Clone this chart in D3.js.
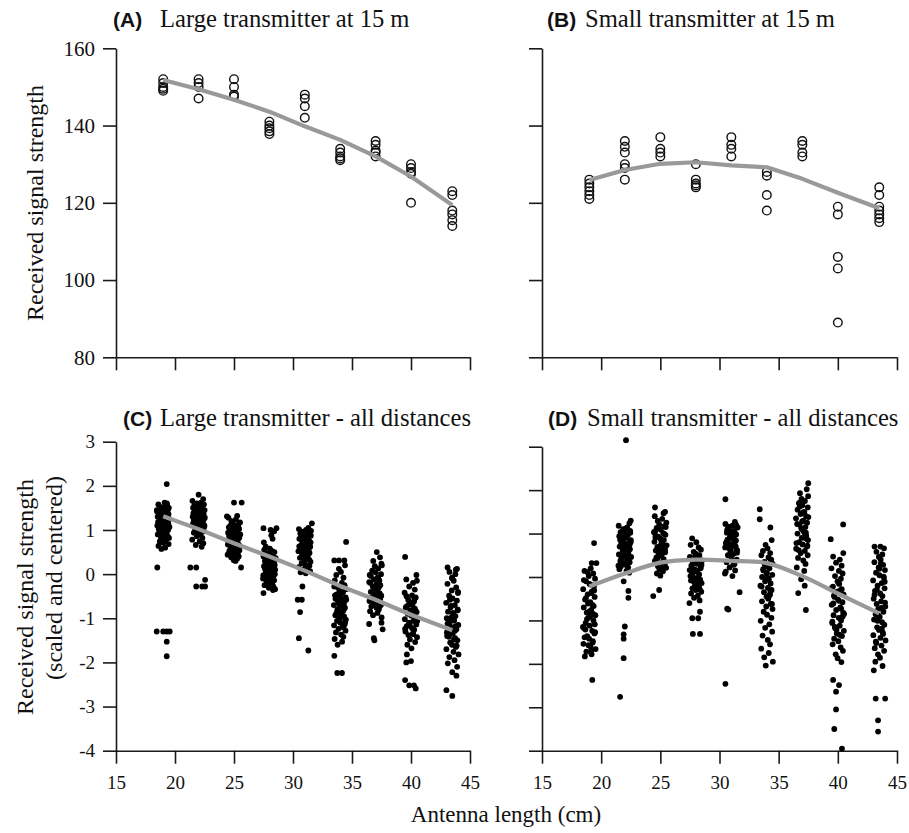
<!DOCTYPE html>
<html><head><meta charset="utf-8">
<script src="https://cdn.jsdelivr.net/npm/d3@7"></script>
<style>
body{margin:0;background:#fff}
svg text{font-family:"Liberation Serif","DejaVu Serif","Noto Serif",serif;}
svg text .tag{font-family:"Liberation Sans","DejaVu Sans",Arial,sans-serif;font-weight:bold;}
</style>
</head><body>
<svg id="chart" width="909" height="833"></svg>
<script>
// ---------- DATA ----------
const antennaGroups = [19, 22, 25, 28, 31, 34, 37, 40, 43.5];
const xTickValues = [15, 20, 25, 30, 35, 40, 45];
const yTicksRaw = [80, 100, 120, 140, 160];
const yTicksScaled = [-4, -3, -2, -1, 0, 1, 2, 3];

// (A) Large transmitter at 15 m
const largeAt15 = [
  [152, 151, 150, 149.5, 149],
  [152, 151, 150, 147],
  [152, 150, 148, 147.5],
  [141, 140, 139.3, 138.5, 137.8],
  [148, 147, 145, 142],
  [134, 133, 132, 131.5, 131],
  [136, 135, 133.5, 133, 132],
  [130, 129, 128, 127.5, 120],
  [123, 122, 118, 117, 115.5, 114]
];
const largeAt15Fit = [151.8, 149.4, 146.7, 143.6, 139.8, 136.3, 132, 126.8, 119.4];

// (B) Small transmitter at 15 m
const smallAt15 = [
  [126, 125, 124, 123, 122, 121],
  [136, 134.5, 133, 130, 129, 126],
  [137, 134, 133, 132],
  [130, 126, 125, 124.5, 124],
  [137, 135, 134, 132],
  [128, 127, 122, 118],
  [136, 135, 133, 132],
  [119, 117, 106, 103, 89],
  [124, 122, 119, 118, 117, 116, 115]
];
const smallAt15Fit = [125.9, 128.5, 130.1, 130.5, 129.7, 129.2, 126.2, 122.6, 118.6];

// (C) Large transmitter - all distances (scaled), one string per antenna group
const largeAllCore = [
  "1.62 1.58 1.55 1.52 1.50 1.48 1.46 1.44 1.42 1.40 1.38 1.36 1.35 1.33 1.31 1.30 1.28 1.27 1.25 1.24 1.22 1.21 1.20 1.18 1.17 1.15 1.14 1.12 1.11 1.10 1.08 1.07 1.05 1.04 1.02 1.00 0.98 0.96 0.94 0.92 0.90 0.88 0.86 0.84 0.82 0.80 0.77 0.74 0.71 0.68 0.64 0.60 0.57 1.60 1.45 1.25 1.13 0.95 0.85 1.39",
  "1.70 1.66 1.62 1.60 1.58 1.56 1.54 1.52 1.50 1.48 1.47 1.45 1.44 1.42 1.41 1.40 1.38 1.37 1.36 1.34 1.33 1.32 1.30 1.29 1.28 1.26 1.25 1.24 1.22 1.21 1.20 1.18 1.17 1.15 1.14 1.12 1.10 1.08 1.06 1.04 1.02 1.00 0.97 0.94 0.90 0.86 0.82 0.78 0.74 0.70 0.66 0.62 1.35 1.27 1.19 1.43 1.50 1.11 0.95 1.31",
  "1.32 1.28 1.24 1.20 1.17 1.14 1.12 1.10 1.08 1.06 1.04 1.02 1.00 0.98 0.96 0.94 0.92 0.90 0.88 0.86 0.84 0.82 0.80 0.78 0.76 0.74 0.72 0.70 0.68 0.66 0.64 0.62 0.60 0.58 0.56 0.54 0.52 0.50 0.48 0.46 0.44 0.42 0.40 0.38 0.35 0.32 0.30 0.87 0.79 0.71 0.63 0.55 0.95 1.05 0.67 0.59 0.47 0.83 0.75",
  "0.62 0.58 0.55 0.52 0.50 0.47 0.45 0.42 0.40 0.38 0.36 0.34 0.32 0.30 0.28 0.26 0.24 0.22 0.20 0.18 0.16 0.14 0.12 0.10 0.08 0.06 0.04 0.02 0.00 -0.02 -0.04 -0.06 -0.08 -0.10 -0.12 -0.14 -0.16 -0.18 -0.20 -0.22 -0.25 -0.28 -0.31 -0.34 0.27 0.17 0.07 -0.03 0.33 0.43 0.21 0.11 -0.13 0.80 0.72 0.88",
  "1.05 1.02 1.00 0.98 0.96 0.94 0.92 0.90 0.88 0.86 0.84 0.82 0.80 0.78 0.76 0.74 0.72 0.70 0.68 0.66 0.64 0.62 0.60 0.58 0.56 0.54 0.52 0.50 0.48 0.46 0.44 0.42 0.40 0.37 0.34 0.31 0.28 0.25 0.22 0.19 0.16 0.13 0.10 0.07 0.04 0.02 0.71 0.63 0.55 0.79 0.87 0.47 0.33 0.59",
  "0.20 0.12 0.05 -0.02 -0.08 -0.14 -0.20 -0.25 -0.30 -0.34 -0.38 -0.42 -0.46 -0.50 -0.53 -0.56 -0.60 -0.63 -0.66 -0.70 -0.73 -0.76 -0.80 -0.83 -0.86 -0.90 -0.93 -0.96 -1.00 -1.03 -1.06 -1.10 -1.13 -1.16 -1.20 -1.24 -1.28 -1.32 -1.37 -1.42 -1.47 -1.53 -1.60 -0.58 -0.68 -0.78 -0.88 -0.98 -0.48 -0.40 -1.08 -0.62 -0.72 -1.18 -0.28",
  "0.38 0.30 0.24 0.18 0.13 0.08 0.04 0.00 -0.04 -0.08 -0.12 -0.15 -0.18 -0.22 -0.25 -0.28 -0.31 -0.34 -0.37 -0.40 -0.43 -0.46 -0.49 -0.52 -0.55 -0.58 -0.61 -0.64 -0.67 -0.70 -0.73 -0.76 -0.80 -0.84 -0.88 -0.93 -0.98 -0.35 -0.45 -0.55 -0.65 -0.20 -0.10 -0.50 -0.60 -0.30 -0.75 -0.02 -0.40 0.20",
  "-0.02 -0.12 -0.20 -0.28 -0.35 -0.42 -0.48 -0.53 -0.58 -0.62 -0.66 -0.70 -0.74 -0.78 -0.82 -0.86 -0.90 -0.94 -0.98 -1.02 -1.06 -1.10 -1.14 -1.18 -1.22 -1.26 -1.30 -1.34 -1.38 -1.43 -1.48 -1.54 -1.60 -1.68 -0.76 -0.88 -1.00 -1.12 -0.64 -0.55 -1.24 -0.94 -1.06 -0.70 -1.36 -0.50 -0.84 -1.16",
  "0.12 0.05 0.00 -0.08 -0.15 -0.22 -0.30 -0.37 -0.43 -0.49 -0.55 -0.60 -0.65 -0.70 -0.75 -0.80 -0.85 -0.90 -0.95 -1.00 -1.05 -1.10 -1.15 -1.20 -1.25 -1.30 -1.35 -1.40 -1.45 -1.50 -1.55 -1.60 -1.65 -1.70 -1.76 -1.82 -1.88 -1.95 -2.02 -2.10 -0.72 -0.88 -1.02 -1.18 -1.32 -1.48 -1.62 -0.58 -0.40 -0.98 -1.28 -1.42 -0.10 -0.82 -1.12"
];
// isolated readings: [offset from group length (cm), value]
const largeAllOutliers = [
  [[-0.5, 0.15], [-0.55, -1.30], [0.0, -1.30], [0.3, -1.30], [0.55, -1.30], [0.3, -1.53], [0.3, -1.86], [0.3, 2.04]],
  [[0.0, 1.80], [-0.7, 0.15], [-0.2, 0.15], [-0.2, -0.28], [0.3, -0.28], [0.55, -0.28], [0.55, -0.13]],
  [[0.0, 1.62], [0.65, 1.62], [-0.6, 1.31], [0.6, 0.15]],
  [[-0.5, 1.04], [0.1, 1.0], [0.6, 1.04], [0.4, 0.97], [-0.5, -0.43], [0.3, -0.36]],
  [[0.6, 1.15], [-0.2, -0.28], [-0.6, -0.58], [-0.25, -0.58], [-0.4, -0.86], [-0.5, -1.45], [0.3, -1.73]],
  [[0.5, 0.73], [-0.5, 0.31], [-0.1, 0.31], [0.35, 0.31], [-0.5, -1.85], [-0.25, -2.24], [0.15, -2.24]],
  [[0.1, 0.50], [-0.55, -1.13], [-0.15, -1.45], [-0.1, -1.50], [0.6, -1.25], [0.5, -1.10]],
  [[-0.5, 0.39], [0.5, -0.15], [-0.35, -1.82], [0.0, -1.97], [-0.4, -2.0], [-0.5, -2.40], [-0.15, -2.52], [0.25, -2.52], [0.4, -2.59]],
  [[-0.4, 0.15], [0.3, 0.10], [0.0, -2.22], [0.35, -2.30], [-0.5, -2.63], [0.0, -2.76]]
];
const largeAllFit = [1.31, 1.02, 0.70, 0.40, 0.08, -0.27, -0.58, -0.92, -1.27];

// (D) Small transmitter - all distances (scaled)
const smallAllCore = [
  "0.20 0.14 0.08 0.02 -0.04 -0.10 -0.16 -0.22 -0.28 -0.34 -0.40 -0.46 -0.52 -0.58 -0.64 -0.70 -0.76 -0.82 -0.88 -0.94 -1.00 -1.06 -1.12 -1.18 -1.24 -1.30 -1.36 -1.42 -1.48 -1.54 -1.60 -1.66 -1.72 -1.78 -1.83 -0.31 -0.61 -0.91 -1.21 -1.51 -0.07 -0.37 -0.67 -0.97 -1.27 -1.57 -0.19 -0.49 -0.79 -1.09 -1.39 -1.69 0.11 -0.85 -1.15",
  "1.24 1.18 1.14 1.10 1.06 1.03 1.00 0.97 0.94 0.91 0.88 0.85 0.82 0.79 0.76 0.73 0.70 0.67 0.64 0.61 0.58 0.55 0.52 0.49 0.46 0.43 0.40 0.37 0.34 0.31 0.28 0.25 0.22 0.18 0.14 0.10 0.92 0.80 0.68 0.56 0.44 0.32 1.02 0.86 0.62 0.50 0.38 0.26 1.12 0.74",
  "1.47 1.40 1.34 1.29 1.25 1.21 1.17 1.13 1.09 1.05 1.01 0.97 0.93 0.89 0.85 0.81 0.77 0.73 0.69 0.65 0.61 0.57 0.53 0.49 0.45 0.41 0.37 0.33 0.29 0.25 0.21 0.17 0.13 0.08 0.03 1.15 0.95 0.75 0.55 0.35 1.03 0.83 0.63 0.43 0.23 0.71 0.51 0.91 0.99 0.59",
  "0.89 0.80 0.74 0.68 0.63 0.58 0.54 0.50 0.46 0.42 0.38 0.34 0.30 0.26 0.22 0.18 0.14 0.10 0.06 0.02 -0.02 -0.06 -0.10 -0.14 -0.18 -0.22 -0.26 -0.30 -0.34 -0.38 -0.43 -0.48 -0.54 -0.60 0.40 0.20 0.00 -0.20 0.32 0.12 -0.08 -0.28 0.48 0.28 0.08 -0.12 0.36 0.16 -0.04",
  "1.27 1.22 1.18 1.14 1.10 1.06 1.02 0.98 0.94 0.90 0.86 0.82 0.78 0.74 0.70 0.66 0.62 0.58 0.54 0.50 0.45 0.40 0.34 0.28 0.22 0.15 0.08 0.02 1.20 1.12 1.04 0.96 0.88 0.80 0.72 0.64 0.56 1.16 1.00 0.84 0.68 0.92 0.76 0.60 1.08 0.52 0.30 0.12",
  "0.85 0.74 0.66 0.60 0.55 0.50 0.45 0.40 0.35 0.30 0.25 0.20 0.15 0.10 0.05 0.00 -0.05 -0.10 -0.15 -0.20 -0.25 -0.30 -0.35 -0.40 -0.45 -0.50 -0.56 -0.62 -0.68 -0.74 -0.80 -0.87 -0.94 -1.01 -1.09 -1.17 -1.26 -1.35 -1.45 -1.55 -1.65 -1.75 -1.85 -1.95 -2.04 0.38 0.18 -0.02 -0.22 -0.42 -0.62 0.28 0.08 -0.32",
  "2.02 1.93 1.86 1.80 1.75 1.70 1.65 1.60 1.55 1.50 1.45 1.40 1.35 1.30 1.25 1.20 1.15 1.10 1.05 1.00 0.95 0.90 0.85 0.80 0.75 0.70 0.65 0.60 0.55 0.50 0.44 0.38 0.30 0.22 0.14 1.62 1.38 1.12 0.88 0.62 1.48 1.22 0.98 0.72 1.72 1.28 1.02 0.78",
  "0.55 0.47 0.40 0.33 0.26 0.20 0.14 0.08 0.02 -0.04 -0.10 -0.16 -0.22 -0.28 -0.34 -0.40 -0.46 -0.52 -0.58 -0.64 -0.70 -0.76 -0.82 -0.88 -0.94 -1.00 -1.06 -1.12 -1.18 -1.24 -1.30 -1.36 -1.42 -1.48 -1.55 -1.62 -1.70 -1.78 -1.87 -1.96 -0.25 -0.55 -0.85 -1.15 -0.31 -0.61 -0.91 -1.21 -0.13 -0.43 -0.73 -1.03 -1.33",
  "0.66 0.58 0.52 0.46 0.40 0.34 0.28 0.22 0.16 0.10 0.04 -0.02 -0.08 -0.14 -0.20 -0.26 -0.32 -0.38 -0.44 -0.50 -0.56 -0.62 -0.68 -0.74 -0.80 -0.86 -0.92 -0.98 -1.04 -1.10 -1.16 -1.22 -1.28 -1.34 -1.40 -1.46 -1.52 -1.58 -1.64 -1.70 -1.78 -1.86 -1.95 -2.05 -2.15 0.31 0.01 -0.29 -0.59 -0.89 -1.19 -1.49 0.19 -0.11 -0.41 -0.71 -1.01 -1.31"
];
const smallAllOutliers = [
  [[0.4, 0.78], [0.2, 0.32], [0.6, 0.32], [0.25, -2.37]],
  [[0.1, 3.15], [0.5, 1.30], [-0.1, -0.10], [0.3, -0.32], [0.3, -0.48], [0.0, -1.14], [-0.1, -1.32], [-0.1, -1.42], [-0.1, -1.87], [-0.4, -2.76]],
  [[-0.45, 1.60], [0.4, 1.50], [-0.1, -0.30], [-0.6, -0.44]],
  [[0.35, -0.80], [0.2, -0.95], [-0.3, -0.95], [-0.25, -1.31], [0.35, -1.31]],
  [[-0.5, 1.79], [0.7, -0.35], [-0.35, -0.73], [-0.25, -0.75], [-0.5, -2.46]],
  [[-0.6, 1.56], [-0.6, 1.33], [0.3, 1.14]],
  [[0.5, 2.16], [-0.1, -0.05], [0.2, -0.20], [-0.35, -0.37], [0.3, -0.76]],
  [[0.45, 1.21], [-0.6, 0.87], [-0.4, -2.37], [0.1, -2.49], [-0.15, -2.64], [-0.15, -3.05], [-0.3, -3.50], [0.35, -3.95]],
  [[-0.4, 0.70], [0.1, 0.70], [-0.3, -2.80], [0.5, -2.80], [-0.1, -3.30], [-0.1, -3.56]]
];
const smallAllFit = [-0.22, 0.08, 0.33, 0.40, 0.37, 0.32, 0.02, -0.38, -0.84];

// fixed horizontal jitter pattern (cm) used to spread the dense columns
const jitterPattern = [0.12,-0.41,0.33,-0.05,0.48,-0.27,0.02,0.39,-0.52,0.21,-0.14,0.45,-0.36,0.08,0.27,-0.47,0.16,-0.22,0.51,-0.09,0.35,-0.31,0.04,-0.44,0.24,0.43,-0.18,-0.02,0.30,-0.50,0.10,0.53,-0.25,0.19,-0.38,0.41,-0.11,0.06,-0.33,0.28,-0.46,0.14,0.37,-0.20,0.49,-0.07,0.22,-0.29,0.00,0.46,-0.40,0.17,-0.15,0.32,-0.54,0.09,0.40,-0.24,0.26,-0.03];

// ---------- DRAWING ----------
const svg = d3.select("#chart");
svg.append("rect").attr("width", 909).attr("height", 833).attr("fill", "#fff");
const SERIF = "Liberation Serif, DejaVu Serif, serif";
const INK = "#1a1a1a";
const FIT = "#999999";
const plain = d => String(d);

function makePanel(cfg) {
  const x = d3.scaleLinear().domain([15, 45]).range(cfg.xr);
  const y = d3.scaleLinear().domain(cfg.yd).range(cfg.yr);
  const g = svg.append("g");

  const ya = d3.axisLeft(y).tickValues(cfg.yticks).tickSize(13).tickPadding(8).tickSizeOuter(0)
    .tickFormat(cfg.showY ? plain : () => "");
  const gy = g.append("g").attr("transform", `translate(${cfg.xr[0]},0)`).call(ya);
  const xa = d3.axisBottom(x).tickValues(xTickValues).tickSize(13).tickSizeOuter(0)
    .tickFormat(cfg.showX ? plain : () => "");
  const gx = g.append("g").attr("transform", `translate(0,${cfg.yr[0]})`).call(xa);
  [gx, gy].forEach(a => {
    a.attr("font-family", null).attr("font-size", null);
    a.selectAll("path.domain").attr("stroke", INK).attr("stroke-width", 1.6);
    a.selectAll(".tick line").attr("stroke", INK).attr("stroke-width", 1.6);
    a.selectAll(".tick text").attr("fill", "#111").attr("font-family", SERIF).style("font-size", cfg.tickFs + "px");
  });
  gx.selectAll(".tick text").attr("y", 38).attr("dy", null);

  if (cfg.open) {
    cfg.open.forEach((vals, i) => {
      g.append("g").selectAll("circle").data(vals).join("circle")
        .attr("cx", x(antennaGroups[i])).attr("cy", d => y(d)).attr("r", 4.3)
        .attr("fill", "none").attr("stroke", "#111").attr("stroke-width", 1.4);
    });
  }
  if (cfg.core) {
    cfg.core.forEach((str, i) => {
      const vals = str.trim().split(/\s+/).map(Number);
      const pts = vals.map((v, k) => [antennaGroups[i] + jitterPattern[(k + i * 7) % jitterPattern.length], v]);
      cfg.out[i].forEach(o => pts.push([antennaGroups[i] + o[0], o[1]]));
      g.append("g").selectAll("circle").data(pts).join("circle")
        .attr("cx", d => x(d[0])).attr("cy", d => y(d[1])).attr("r", 2.9).attr("fill", "#000");
    });
  }
  const line = d3.line().x((d, i) => x(antennaGroups[i])).y(d => y(d)).curve(cfg.curve || d3.curveLinear);
  g.append("path").attr("d", line(cfg.fit)).attr("fill", "none")
    .attr("stroke", FIT).attr("stroke-width", 4.2).attr("stroke-linejoin", "round");

  const t = g.append("text").attr("y", cfg.titleY).attr("fill", "#111");
  t.append("tspan").attr("class", "tag").attr("x", cfg.tagX).style("font-size", "21px").text(cfg.tag);
  t.append("tspan").attr("x", cfg.titleX).style("font-size", "24.6px").text(cfg.title);
}

makePanel({xr: [116, 470], yr: [357.3, 48.3], yd: [80, 160], yticks: yTicksRaw, showY: true, showX: false, tickFs: 21,
  open: largeAt15, fit: largeAt15Fit, tag: "(A)", tagX: 113, title: "Large transmitter at 15 m", titleX: 160, titleY: 27});
makePanel({xr: [542, 897], yr: [357.3, 48.3], yd: [80, 160], yticks: yTicksRaw, showY: false, showX: false, tickFs: 21,
  open: smallAt15, fit: smallAt15Fit, tag: "(B)", tagX: 547, title: "Small transmitter at 15 m", titleX: 585, titleY: 27});
makePanel({xr: [116, 470], yr: [750.7, 441.7], yd: [-4, 3], yticks: yTicksScaled, showY: true, showX: true, tickFs: 19,
  core: largeAllCore, out: largeAllOutliers, fit: largeAllFit, tag: "(C)", tagX: 123, title: "Large transmitter - all distances", titleX: 160, titleY: 426});
makePanel({xr: [542, 897], yr: [750.7, 446.7], yd: [-4, 3], yticks: yTicksScaled, showY: false, showX: true, tickFs: 19,
  core: smallAllCore, out: smallAllOutliers, fit: smallAllFit, curve: d3.curveCatmullRom, tag: "(D)", tagX: 548, title: "Small transmitter - all distances", titleX: 587, titleY: 426});

// axis titles
const axisTitle = (tr, txt) => svg.append("text").attr("transform", tr).attr("text-anchor", "middle")
  .style("font-size", "24px").attr("fill", "#111").text(txt);
axisTitle("translate(43,203) rotate(-90)", "Received signal strength");
axisTitle("translate(33,597) rotate(-90)", "Received signal strength");
axisTitle("translate(62,578) rotate(-90)", "(scaled and centered)");
svg.append("text").attr("x", 506).attr("y", 822).attr("text-anchor", "middle")
  .style("font-size", "23px").attr("fill", "#111").text("Antenna length (cm)");
</script>
</body></html>
